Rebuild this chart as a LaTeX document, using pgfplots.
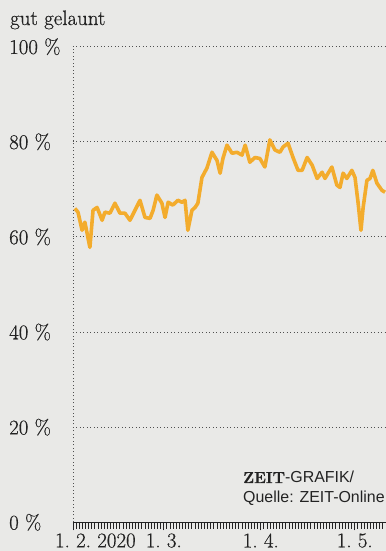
\documentclass[border=0pt]{standalone}
\usepackage{fontspec}
\usepackage{pgfplots}
\pgfplotsset{compat=1.18}
\usetikzlibrary{backgrounds}
\setmainfont{Latin Modern Roman}[FakeBold=0.5]
\newfontfamily\sansf{Liberation Sans}
\definecolor{paper}{RGB}{233,233,231}
\definecolor{txt}{RGB}{35,35,35}
\definecolor{lineorange}{RGB}{243,172,45}
\definecolor{dotgray}{RGB}{80,80,80}
\begin{document}
\begin{tikzpicture}
\useasboundingbox (-73bp,-28.7bp) rectangle (313bp,522.3bp);
\fill[paper] (-73bp,-28.7bp) rectangle (313bp,522.3bp);
\begin{axis}[
  at={(0,0)}, anchor=south west,
  scale only axis,
  width=313bp, height=475.6bp,
  xmin=0, xmax=100, ymin=0, ymax=100,
  axis x line*=bottom, axis y line*=left,
  x axis line style={-, line width=1.4bp, color=txt},
  y axis line style={-, line width=0.9bp, color=dotgray, dash pattern=on 0.9bp off 2.6bp},
  xtick={0,29,60,90},
  xticklabels={1.~2.\rlap{~2020},1.~3.,1.~4.,1.~5.},
  minor xtick={0,1,...,100},
  tick align=outside,
  major tick length=8bp, minor tick length=6.5bp,
  xtick style={color=txt, line width=0.9bp},
  minor tick style={line width=0.5bp, color=txt},
  ytick={0,20,40,60,80,100},
  yticklabels={0~\%,20~\%,40~\%,60~\%,80~\%,100~\%},
  ytick style={draw=none},
  ymajorgrids,
  grid style={color=dotgray, line width=0.9bp, dash pattern=on 0.9bp off 2.6bp},
  ticklabel style={font=\fontsize{21}{23}\selectfont, color=txt, inner sep=0pt},
  xticklabel style={anchor=north, yshift=-3bp},
  yticklabel style={anchor=west, xshift=-56bp},
  clip=false,
]
\addplot[color=lineorange, line width=3.6bp, line join=round] table {
0.6 66.0
1.6 65.2
2.9 61.4
3.8 63.1
5.4 57.8
6.4 65.6
7.7 66.2
9.3 63.5
10.2 65.2
11.8 65.0
13.4 67.1
15.0 65.0
16.6 65.0
18.2 63.5
19.8 65.6
21.4 67.7
23.0 64.1
24.6 63.9
25.6 65.6
26.8 68.8
28.4 67.1
29.4 64.1
30.4 67.3
31.9 66.7
33.5 67.7
34.8 67.3
35.8 67.7
36.7 61.4
38.0 65.6
39.0 66.2
39.9 67.1
41.2 72.5
42.8 74.5
44.4 77.8
46.0 76.1
47.0 73.4
47.9 76.5
49.2 79.3
50.8 77.6
52.4 77.8
54.0 77.2
55.0 79.3
56.5 75.7
58.1 76.7
59.7 76.5
61.3 74.7
62.9 80.4
64.5 78.3
66.1 77.8
67.1 78.9
68.7 79.7
70.3 76.7
71.9 74.0
73.2 74.0
74.8 76.7
76.4 75.1
78.0 72.3
79.6 73.6
80.5 72.3
82.7 74.7
84.3 70.9
85.3 70.4
86.3 73.4
87.5 72.3
89.1 74.0
90.1 72.5
91.1 67.1
92.0 61.4
92.7 66.2
93.9 71.9
94.9 72.3
95.8 74.0
97.1 71.3
98.7 69.8
99.7 69.4
};
\end{axis}
\node[anchor=base west, inner sep=0pt, color=txt, font=\fontsize{21}{23}\selectfont] at (-63bp,497.3bp) {gut gelaunt};
\node[anchor=base west, inner sep=0pt, color=txt, font=\fontsize{16}{18}\selectfont] at (170bp,39.3bp) {\textbf{ZEIT}\sansf-GRAFIK/};
\node[anchor=base west, inner sep=0pt, color=txt, font=\fontsize{16}{18}\selectfont\sansf] at (170bp,19.3bp) {Quelle: ZEIT-Online};
\end{tikzpicture}
\end{document}
